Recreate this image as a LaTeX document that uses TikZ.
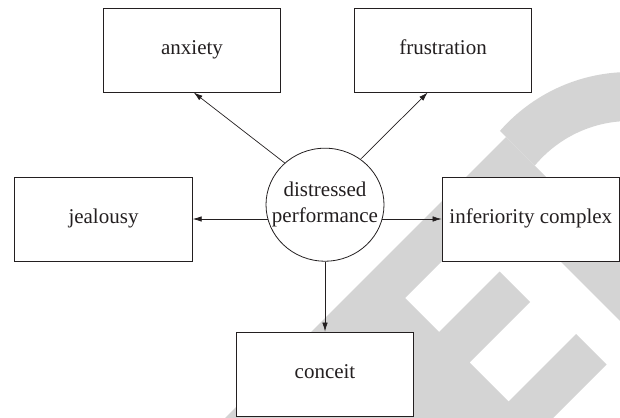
\documentclass[tikz,border=0pt]{standalone}
\usepackage{fontspec}
\setmainfont{Liberation Serif}
\usetikzlibrary{shapes.geometric,arrows.meta,calc}
\definecolor{wm}{RGB}{212,212,212}
\definecolor{ink}{RGB}{35,31,32}
\begin{document}
\begin{tikzpicture}[x=1pt,y=-1pt,
  box/.style={draw=ink, line width=0.9pt, fill=white, minimum width=177.5pt, minimum height=84pt,
    inner sep=0pt, font=\fontsize{21}{26}\selectfont, text=ink, text height=14.5pt, text depth=4.6pt},
  arr/.style={draw=ink, line width=0.7pt, -{Latex[length=9pt,width=5.5pt]}},
  lbl/.style={align=center, font=\fontsize{21}{26}\selectfont, text=ink, inner sep=0pt}]
\useasboundingbox (0,0) rectangle (620,417);
% watermark
\begin{scope}
  \clip (0,0) rectangle (620,417);
  \fill[wm] (183,460) -- (506,137) -- (700,331) -- (700,401) -- (501,202) -- (405,298)
    -- (439,332) -- (499.5,271.5) -- (530,302) -- (469.5,362.5) -- (508.5,401.5)
    -- (576,334) -- (606.5,364.5) -- (511,460) -- cycle;
  \begin{scope}
    \clip (330,-39) -- (720,-39) -- (720,351) -- cycle;
    \fill[wm, even odd rule] (630,245) circle[radius=173pt] (630,245) circle[radius=124pt];
  \end{scope}
\end{scope}
% nodes
\node[box] (anx) at (192,50) {anxiety};
\node[box] (fru) at (443,50) {frustration};
\node[box] (jea) at (103.5,219) {jealousy};
\node[box] (inf) at (530.8,219) {inferiority complex};
\node[box] (con) at (325,374) {conceit};
\node[ellipse, draw=ink, line width=0.8pt, fill=white, minimum width=118pt, minimum height=113pt, inner sep=0pt] (c) at (325,204.7) {};
\node[lbl] (ct) at (325,204) {distressed\\performance};
% connectors
\draw[arr] (c.134) -- ([xshift=1.7pt]anx.south);
\draw[arr] (c.52) -- ([xshift=-15.3pt]fru.south);
\draw[arr] (jea.east -| c.194) -- (jea.east);
\draw[arr] (inf.west -| c.346) -- (inf.west);
\draw[arr] (c.south) -- (con.north);
\end{tikzpicture}
\end{document}
